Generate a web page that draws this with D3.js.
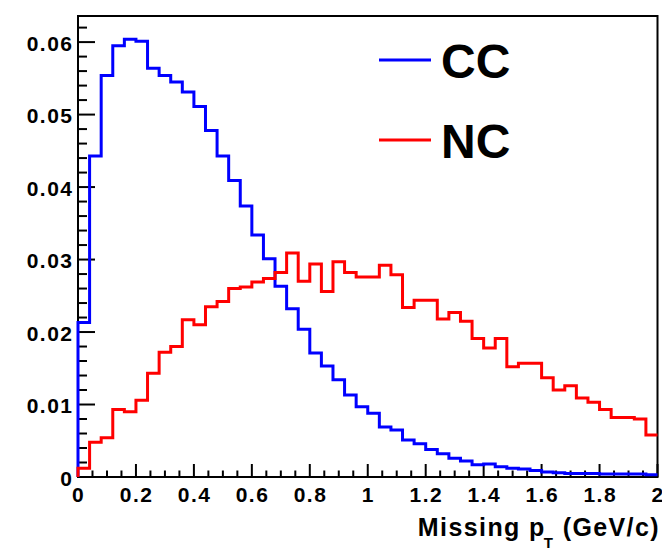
<!DOCTYPE html>
<html>
<head>
<meta charset="utf-8">
<script src="https://cdn.jsdelivr.net/npm/d3@7"></script>
<style>
  html, body { margin: 0; padding: 0; background: #fff; }
  svg { display: block; }
  text { font-family: "Liberation Sans", Arial, Helvetica, sans-serif; font-weight: bold; fill: #000; }
</style>
</head>
<body>
<svg id="chart" width="662" height="548"></svg>
<script>
// Missing pT distributions, 50 bins of 0.04 GeV/c between 0 and 2 GeV/c
const binEdgesRange = [0, 2];
const nBins = 50;

const ccValues = [
  0.0213, 0.0443, 0.0554, 0.0595, 0.0604, 0.0601, 0.0564, 0.0554, 0.0545, 0.0531,
  0.0511, 0.0478, 0.0443, 0.0409, 0.0374, 0.0334, 0.0301, 0.0263, 0.0232, 0.0204,
  0.0171, 0.0153, 0.0134, 0.0113, 0.0097, 0.0088, 0.0069, 0.0065, 0.0051, 0.0046,
  0.0038, 0.0032, 0.0026, 0.0022, 0.0017, 0.0018, 0.0014, 0.0012, 0.0011, 0.0009,
  0.0007, 0.0006, 0.0005, 0.0005, 0.0005, 0.0004, 0.0004, 0.0004, 0.0004, 0.0003
];

const ncValues = [
  0.0012, 0.0048, 0.0054, 0.0093, 0.0090, 0.0106, 0.0143, 0.0172, 0.0180, 0.0217,
  0.0210, 0.0235, 0.0242, 0.0260, 0.0262, 0.0269, 0.0274, 0.0282, 0.0309, 0.0270,
  0.0294, 0.0256, 0.0297, 0.0282, 0.0276, 0.0276, 0.0292, 0.0279, 0.0234, 0.0244,
  0.0244, 0.0218, 0.0227, 0.0215, 0.0191, 0.0178, 0.0191, 0.0152, 0.0157, 0.0157,
  0.0137, 0.0120, 0.0126, 0.0109, 0.0103, 0.0093, 0.0082, 0.0082, 0.0080, 0.0058
];

const seriesNames = ["CC", "NC"];
const seriesColors = ["#0000ff", "#ff0000"];

const xTickValues = [0, 0.2, 0.4, 0.6, 0.8, 1, 1.2, 1.4, 1.6, 1.8, 2];
const xTickLabels = ["0", "0.2", "0.4", "0.6", "0.8", "1", "1.2", "1.4", "1.6", "1.8", "2"];
const yTickValues = [0, 0.01, 0.02, 0.03, 0.04, 0.05, 0.06];
const yTickLabels = ["0", "0.01", "0.02", "0.03", "0.04", "0.05", "0.06"];
const yMax = 0.0636;

const svg = d3.select("#chart");
const frame = { left: 78, right: 657.5, top: 16, bottom: 477 };

const x = d3.scaleLinear().domain(binEdgesRange).range([frame.left, frame.right]);
const y = d3.scaleLinear().domain([0, yMax]).range([frame.bottom, frame.top]);

// Frame
svg.append("rect")
  .attr("x", frame.left).attr("y", frame.top)
  .attr("width", frame.right - frame.left).attr("height", frame.bottom - frame.top)
  .attr("fill", "none").attr("stroke", "#000").attr("stroke-width", 2);

// Inward ticks, ROOT style
const ticks = svg.append("g").attr("stroke", "#000").attr("stroke-width", 2);
const yMinor = d3.range(0, yMax + 1e-9, 0.002);
yMinor.forEach((v, i) => {
  const major = i % 5 === 0;
  ticks.append("line")
    .attr("x1", frame.left).attr("x2", frame.left + (major ? 17 : 9))
    .attr("y1", y(v)).attr("y2", y(v));
});
const xMinor = d3.range(0, 2 + 1e-9, 0.05);
xMinor.forEach((v, i) => {
  const major = i % 4 === 0;
  ticks.append("line")
    .attr("x1", x(v)).attr("x2", x(v))
    .attr("y1", frame.bottom).attr("y2", frame.bottom - (major ? 13 : 6.5));
});

// Tick labels
svg.append("g").selectAll("text").data(yTickValues).join("text")
  .attr("x", 73.5)
  .attr("y", d => y(d) + 8.5)
  .attr("text-anchor", "end")
  .attr("font-size", 21)
  .attr("letter-spacing", "1.5")
  .text((d, i) => yTickLabels[i]);

svg.append("g").selectAll("text").data(xTickValues).join("text")
  .attr("x", d => x(d) + 0.7)
  .attr("y", 501.5)
  .attr("text-anchor", "middle")
  .attr("font-size", 21)
  .attr("letter-spacing", "1.5")
  .text((d, i) => xTickLabels[i]);

// Axis title
const title = svg.append("text")
  .attr("x", 660)
  .attr("y", 536)
  .attr("text-anchor", "end")
  .attr("font-size", 25)
  .attr("letter-spacing", "1.4");
title.append("tspan").text("Missing p");
title.append("tspan").attr("font-size", 15).attr("dy", 12).attr("dx", -2).text("T");
title.append("tspan").attr("dy", -12).text(" (GeV/c)");

// Histograms as step outlines
const binWidth = (binEdgesRange[1] - binEdgesRange[0]) / nBins;
function stepPoints(values) {
  const pts = [[binEdgesRange[0], 0]];
  values.forEach((v, i) => {
    pts.push([binEdgesRange[0] + i * binWidth, v]);
    pts.push([binEdgesRange[0] + (i + 1) * binWidth, v]);
  });
  return pts;
}
const line = d3.line().x(d => x(d[0])).y(d => y(d[1]));

[ccValues, ncValues].forEach((vals, k) => {
  svg.append("path")
    .attr("d", line(stepPoints(vals)))
    .attr("fill", "none")
    .attr("stroke", seriesColors[k])
    .attr("stroke-width", 3)
    .attr("stroke-linejoin", "miter");
});

// Legend
const legendY = [60, 140];
const legend = svg.append("g");
seriesNames.forEach((name, k) => {
  legend.append("line")
    .attr("x1", 379).attr("x2", 431)
    .attr("y1", legendY[k]).attr("y2", legendY[k])
    .attr("stroke", seriesColors[k]).attr("stroke-width", 3);
  legend.append("text")
    .attr("x", 441)
    .attr("y", legendY[k] + 18)
    .attr("font-size", 48)
    .text(name);
});
</script>
</body>
</html>
